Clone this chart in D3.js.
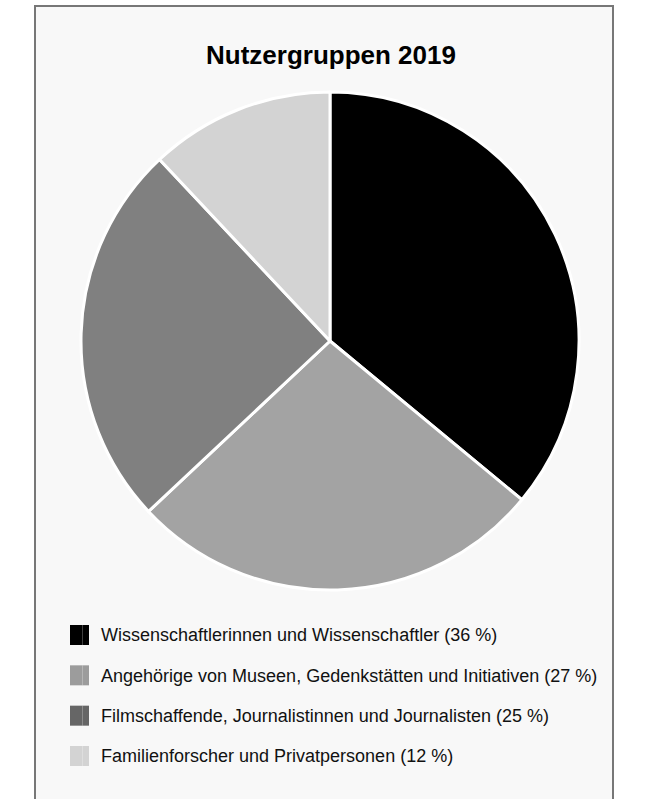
<!DOCTYPE html>
<html>
<head>
<meta charset="utf-8">
<script src="https://cdn.jsdelivr.net/npm/d3@7"></script>
<style>
  html, body { margin: 0; padding: 0; background: #ffffff; }
  svg { display: block; }
</style>
</head>
<body>
<svg id="chart" width="646" height="799"></svg>
<script>
  const title = "Nutzergruppen 2019";
  const categories = [
    "Wissenschaftlerinnen und Wissenschaftler",
    "Angehörige von Museen, Gedenkstätten und Initiativen",
    "Filmschaffende, Journalistinnen und Journalisten",
    "Familienforscher und Privatpersonen",
  ];
  const shares = [36, 27, 25, 12];

  const sliceColors = ["#000000", "#a3a3a3", "#808080", "#d3d3d3"];
  const legendColors = ["#000000", "#9c9c9c", "#666666", "#d3d3d3"];

  const width = 646,
    height = 799;
  const svg = d3.select("#chart");

  // frame (bottom edge runs off the picture)
  svg
    .append("rect")
    .attr("x", 35)
    .attr("y", 6)
    .attr("width", 578)
    .attr("height", 820)
    .attr("fill", "#f8f8f8")
    .attr("stroke", "#777777")
    .attr("stroke-width", 2);

  svg
    .append("text")
    .attr("x", 331)
    .attr("y", 64)
    .attr("text-anchor", "middle")
    .attr("font-family", "Liberation Sans, Arial, sans-serif")
    .attr("font-weight", "bold")
    .attr("font-size", "26px")
    .attr("fill", "#000")
    .text(title);

  const data = categories.map((c, i) => ({ name: c, value: shares[i] }));

  const pie = d3
    .pie()
    .sort(null)
    .value((d) => d.value);
  const radius = 249;
  const arc = d3.arc().innerRadius(0).outerRadius(radius);
  const color = d3.scaleOrdinal().domain(categories).range(sliceColors);
  const legendColor = d3.scaleOrdinal().domain(categories).range(legendColors);

  const g = svg.append("g").attr("transform", "translate(330, 341)");
  g.selectAll("path")
    .data(pie(data))
    .enter()
    .append("path")
    .attr("d", arc)
    .attr("fill", (d) => color(d.data.name))
    .attr("stroke", "#ffffff")
    .attr("stroke-width", 3)
    .attr("stroke-linejoin", "round");

  // legend
  const y = d3
    .scalePoint()
    .domain(categories)
    .range([635, 756]);

  const items = svg
    .selectAll(".legend")
    .data(data)
    .enter()
    .append("g")
    .attr("class", "legend")
    .attr("transform", (d) => `translate(70, ${y(d.name)})`);

  items
    .append("rect")
    .attr("x", 0)
    .attr("y", -10)
    .attr("width", 19)
    .attr("height", 20)
    .attr("fill", (d) => legendColor(d.name));

  items
    .append("line")
    .attr("x1", 12.5)
    .attr("x2", 12.5)
    .attr("y1", -10)
    .attr("y2", 10)
    .attr("stroke", "#ffffff")
    .attr("stroke-opacity", 0.25)
    .attr("stroke-width", 1);

  items
    .append("text")
    .attr("x", 31)
    .attr("y", 0)
    .attr("dy", "0.35em")
    .attr("font-family", "Liberation Sans, Arial, sans-serif")
    .attr("font-size", "18px")
    .attr("fill", "#111")
    .text((d, i) => `${d.name} (${shares[i]} %)`);
</script>
</body>
</html>
